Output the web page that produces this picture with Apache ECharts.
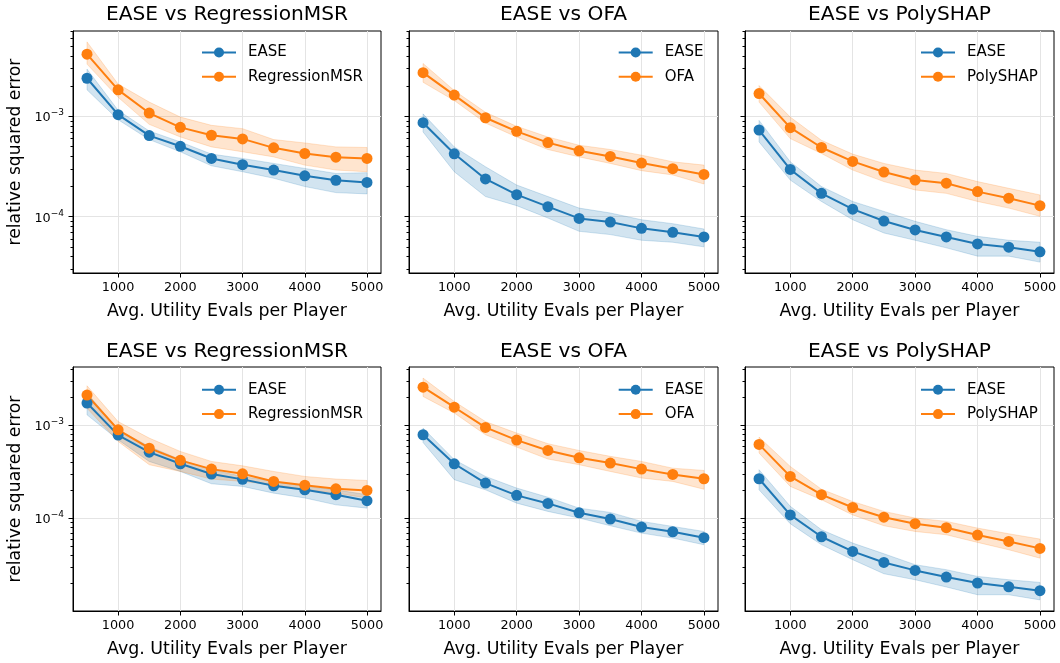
<!DOCTYPE html>
<html><head><meta charset="utf-8">
<script src="https://cdn.jsdelivr.net/npm/echarts@6/dist/echarts.min.js"></script>
<style>html,body{margin:0;padding:0;background:#fff}#c{width:1060px;height:663px}</style>
</head><body><div id="c"></div>
<script>
// ---------- data ----------
const evals = [500, 1000, 1500, 2000, 2500, 3000, 3500, 4000, 4500, 5000];
const xTickValues = [1000, 2000, 3000, 4000, 5000];
const yTickValues = [1e-5, 1e-4, 1e-3, 1e-2];
const panelTitles = ['EASE vs RegressionMSR', 'EASE vs OFA', 'EASE vs PolySHAP'];
const otherNames = ['RegressionMSR', 'OFA', 'PolySHAP'];

// Row 1
const r1RegEase   = [2.40e-3, 1.04e-3, 6.44e-4, 5.04e-4, 3.81e-4, 3.30e-4, 2.92e-4, 2.56e-4, 2.31e-4, 2.20e-4];
const r1RegEaseLo = [1.84e-3, 9.27e-4, 5.88e-4, 4.44e-4, 3.22e-4, 2.81e-4, 2.42e-4, 2.00e-4, 1.74e-4, 1.69e-4];
const r1RegEaseHi = [2.96e-3, 1.15e-3, 7.16e-4, 5.57e-4, 4.21e-4, 3.81e-4, 3.40e-4, 3.03e-4, 2.70e-4, 2.75e-4];
const r1Reg       = [4.17e-3, 1.84e-3, 1.08e-3, 7.78e-4, 6.49e-4, 5.97e-4, 4.86e-4, 4.27e-4, 3.92e-4, 3.81e-4];
const r1RegLo     = [3.32e-3, 1.55e-3, 8.33e-4, 6.24e-4, 4.97e-4, 4.44e-4, 3.95e-4, 3.27e-4, 2.92e-4, 2.81e-4];
const r1RegHi     = [5.53e-3, 2.10e-3, 1.39e-3, 9.85e-4, 8.15e-4, 7.55e-4, 5.88e-4, 5.44e-4, 4.97e-4, 4.90e-4];

const r1OfaEase   = [8.66e-4, 4.24e-4, 2.38e-4, 1.66e-4, 1.26e-4, 9.62e-5, 8.85e-5, 7.66e-5, 6.99e-5, 6.29e-5];
const r1OfaEaseLo = [7.00e-4, 2.81e-4, 1.59e-4, 1.29e-4, 9.71e-5, 7.16e-5, 6.64e-5, 5.83e-5, 5.57e-5, 5.01e-5];
const r1OfaEaseHi = [1.06e-3, 4.97e-4, 3.15e-4, 2.07e-4, 1.59e-4, 1.22e-4, 1.09e-4, 9.34e-5, 8.53e-5, 7.55e-5];
const r1Ofa       = [2.73e-3, 1.63e-3, 9.70e-4, 7.10e-4, 5.48e-4, 4.54e-4, 3.99e-4, 3.43e-4, 3.01e-4, 2.64e-4];
const r1OfaLo     = [2.19e-3, 1.44e-3, 8.59e-4, 6.24e-4, 4.68e-4, 3.95e-4, 3.40e-4, 2.88e-4, 2.61e-4, 2.12e-4];
const r1OfaHi     = [3.37e-3, 1.81e-3, 1.10e-3, 7.96e-4, 6.24e-4, 5.16e-4, 4.68e-4, 4.11e-4, 3.53e-4, 3.27e-4];

const r1PolyEase   = [7.32e-4, 2.96e-4, 1.71e-4, 1.19e-4, 9.06e-5, 7.38e-5, 6.29e-5, 5.36e-5, 4.97e-5, 4.47e-5];
const r1PolyEaseLo = [5.57e-4, 2.32e-4, 1.42e-4, 9.34e-5, 6.89e-5, 5.83e-5, 4.90e-5, 4.05e-5, 4.05e-5, 3.53e-5];
const r1PolyEaseHi = [9.13e-4, 3.53e-4, 2.00e-4, 1.42e-4, 1.13e-4, 9.00e-5, 7.43e-5, 6.38e-5, 5.83e-5, 5.57e-5];
const r1Poly       = [1.69e-3, 7.73e-4, 4.90e-4, 3.56e-4, 2.79e-4, 2.32e-4, 2.16e-4, 1.78e-4, 1.53e-4, 1.29e-4];
const r1PolyLo     = [1.39e-3, 6.01e-4, 4.27e-4, 2.92e-4, 2.24e-4, 1.85e-4, 1.71e-4, 1.42e-4, 1.22e-4, 1.01e-4];
const r1PolyHi     = [2.03e-3, 9.85e-4, 5.78e-4, 4.21e-4, 3.40e-4, 2.92e-4, 2.70e-4, 2.24e-4, 1.92e-4, 1.65e-4];

// Row 2
const r2RegEase   = [1.74e-3, 7.87e-4, 5.16e-4, 3.87e-4, 3.00e-4, 2.63e-4, 2.24e-4, 2.03e-4, 1.80e-4, 1.55e-4];
const r2RegEaseLo = [1.30e-3, 7.01e-4, 4.10e-4, 3.20e-4, 2.36e-4, 2.21e-4, 1.87e-4, 1.66e-4, 1.40e-4, 1.29e-4];
const r2RegEaseHi = [2.23e-3, 8.98e-4, 5.94e-4, 4.28e-4, 3.34e-4, 2.83e-4, 2.50e-4, 2.21e-4, 2.03e-4, 1.80e-4];
const r2Reg       = [2.12e-3, 8.98e-4, 5.70e-4, 4.21e-4, 3.39e-4, 3.02e-4, 2.50e-4, 2.28e-4, 2.08e-4, 2.00e-4];
const r2RegLo     = [1.53e-3, 6.73e-4, 3.78e-4, 3.20e-4, 2.65e-4, 2.50e-4, 2.30e-4, 2.06e-4, 1.87e-4, 1.66e-4];
const r2RegHi     = [2.67e-3, 1.10e-3, 7.31e-4, 5.25e-4, 4.10e-4, 3.68e-4, 3.20e-4, 2.83e-4, 2.65e-4, 2.56e-4];

const r2OfaEase   = [7.94e-4, 3.87e-4, 2.40e-4, 1.77e-4, 1.45e-4, 1.15e-4, 9.84e-5, 8.07e-5, 7.19e-5, 6.20e-5];
const r2OfaEaseLo = [6.56e-4, 2.61e-4, 2.03e-4, 1.46e-4, 1.19e-4, 1.01e-4, 8.34e-5, 6.95e-5, 6.15e-5, 5.21e-5];
const r2OfaEaseHi = [9.36e-4, 4.28e-4, 2.83e-4, 2.12e-4, 1.69e-4, 1.29e-4, 1.16e-4, 9.29e-5, 8.20e-5, 7.24e-5];
const r2Ofa       = [2.58e-3, 1.57e-3, 9.52e-4, 6.95e-4, 5.38e-4, 4.49e-4, 3.94e-4, 3.39e-4, 2.97e-4, 2.67e-4];
const r2OfaLo     = [2.05e-3, 1.36e-3, 7.94e-4, 5.85e-4, 4.35e-4, 3.78e-4, 3.20e-4, 2.72e-4, 2.50e-4, 2.06e-4];
const r2OfaHi     = [3.23e-3, 1.81e-3, 1.10e-3, 8.28e-4, 6.36e-4, 5.38e-4, 4.65e-4, 4.10e-4, 3.47e-4, 3.28e-4];

const r2PolyEase   = [2.67e-4, 1.09e-4, 6.35e-5, 4.42e-5, 3.36e-5, 2.76e-5, 2.34e-5, 2.02e-5, 1.84e-5, 1.67e-5];
const r2PolyEaseLo = [2.03e-4, 8.77e-5, 5.21e-5, 3.60e-5, 2.54e-5, 2.19e-5, 1.83e-5, 1.51e-5, 1.51e-5, 1.33e-5];
const r2PolyEaseHi = [3.34e-4, 1.35e-4, 7.55e-5, 5.43e-5, 4.17e-5, 3.18e-5, 2.81e-5, 2.38e-5, 2.19e-5, 2.05e-5];
const r2Poly       = [6.25e-4, 2.83e-4, 1.80e-4, 1.31e-4, 1.03e-4, 8.77e-5, 7.94e-5, 6.62e-5, 5.66e-5, 4.76e-5];
const r2PolyLo     = [5.05e-4, 2.21e-4, 1.59e-4, 1.09e-4, 8.34e-5, 7.24e-5, 6.67e-5, 5.52e-5, 4.60e-5, 3.74e-5];
const r2PolyHi     = [7.50e-4, 3.62e-4, 2.06e-4, 1.52e-4, 1.19e-4, 1.01e-4, 9.29e-5, 7.87e-5, 6.84e-5, 6.00e-5];

// ---------- layout / style ----------
const FONT = 'DejaVu Sans';
const BLUE = '#1f77b4', ORANGE = '#ff7f0e';
const BLUE_A = 'rgba(31,119,180,0.2)', ORANGE_A = 'rgba(255,127,14,0.2)';
const colLeft = [73, 409, 745], colWidth = [308, 309, 309];
const rowTop = [31, 367], rowHeight = [242, 244];
const yRange = [[2.75e-5, 7.1e-3], [1.01e-5, 4.25e-3]];
const xRange = [275, 5225];
const legendLeft = [201, 617.7, 920];
const legendTop = [44.5, 381.8];
const titleTop = [4.5, 342];

const panels = [
  {row: 0, col: 0, e: r1RegEase, eLo: r1RegEaseLo, eHi: r1RegEaseHi, o: r1Reg, oLo: r1RegLo, oHi: r1RegHi},
  {row: 0, col: 1, e: r1OfaEase, eLo: r1OfaEaseLo, eHi: r1OfaEaseHi, o: r1Ofa, oLo: r1OfaLo, oHi: r1OfaHi},
  {row: 0, col: 2, e: r1PolyEase, eLo: r1PolyEaseLo, eHi: r1PolyEaseHi, o: r1Poly, oLo: r1PolyLo, oHi: r1PolyHi},
  {row: 1, col: 0, e: r2RegEase, eLo: r2RegEaseLo, eHi: r2RegEaseHi, o: r2Reg, oLo: r2RegLo, oHi: r2RegHi},
  {row: 1, col: 1, e: r2OfaEase, eLo: r2OfaEaseLo, eHi: r2OfaEaseHi, o: r2Ofa, oLo: r2OfaLo, oHi: r2OfaHi},
  {row: 1, col: 2, e: r2PolyEase, eLo: r2PolyEaseLo, eHi: r2PolyEaseHi, o: r2Poly, oLo: r2PolyLo, oHi: r2PolyHi}
];

// minor tick positions for log axis (2..9 x 10^k)
const minorTicks = [];
for (let k = -6; k <= -2; k++) for (let m = 2; m <= 9; m++) minorTicks.push(m * Math.pow(10, k));

const pairs = (ys) => evals.map((x, i) => [x, ys[i]]);
const bandRows = (lo, hi) => evals.map((x, i) => [x, lo[i], hi[i]]);

// one polygon for the whole band, built from all data items via the axis scales
function bandRenderer(color) {
  return function (params, api) {
    if (params.dataIndexInside !== 0) return null;
    const n = params.dataInsideLength;
    const upper = [], lower = [];
    for (let k = 0; k < n; k++) {
      const x = api.value(0, k);
      lower.push(api.coord([x, api.value(1, k)]));
      upper.push(api.coord([x, api.value(2, k)]));
    }
    const pts = lower.concat(upper.reverse());
    return {type: 'polygon', shape: {points: pts},
      style: {fill: color, stroke: color, lineWidth: 1}};
  };
}

const grid = [], xAxis = [], yAxis = [], series = [], legend = [], title = [];

panels.forEach((p, i) => {
  const r = p.row, c = p.col;
  grid.push({left: colLeft[c], top: rowTop[r], width: colWidth[c], height: rowHeight[r],
    show: true, borderColor: '#000', borderWidth: 1, backgroundColor: 'transparent',
    containLabel: false, outerBoundsMode: 'none'});
  xAxis.push({type: 'value', gridIndex: i, min: xRange[0], max: xRange[1],
    name: 'Avg. Utility Evals per Player', nameLocation: 'middle', nameGap: 30,
    nameTextStyle: {fontFamily: FONT, fontSize: 17.4, color: '#000'},
    axisLine: {show: true, lineStyle: {color: '#000', width: 1}},
    axisTick: {show: true, length: 4.5, lineStyle: {color: '#000', width: 1}, customValues: xTickValues},
    axisLabel: {show: true, margin: 8, fontFamily: FONT, fontSize: 12.8, color: '#000',
      customValues: xTickValues, formatter: v => String(Math.round(v))},
    splitLine: {show: true, lineStyle: {color: '#e4e4e4', width: 1}}
  });
  yAxis.push({type: 'log', logBase: 10, gridIndex: i, min: yRange[r][0], max: yRange[r][1],
    name: c === 0 ? 'relative squared error' : '', nameLocation: 'middle', nameGap: 49,
    nameTextStyle: {fontFamily: FONT, fontSize: 17.2, color: '#000'},
    axisLine: {show: true, lineStyle: {color: '#000', width: 1}},
    axisTick: {show: true, length: 4.5, lineStyle: {color: '#000', width: 1}, customValues: yTickValues},
    axisLabel: {show: c === 0, margin: 9, customValues: yTickValues,
      formatter: v => '{b|10}{s|\u2212' + Math.abs(Math.round(Math.log10(v))) + '}',
      rich: {
        b: {fontFamily: FONT, fontSize: 12.8, color: '#000', lineHeight: 16, verticalAlign: 'bottom'},
        s: {fontFamily: FONT, fontSize: 9, color: '#000', lineHeight: 11, verticalAlign: 'top'}
      }},
    splitLine: {show: true, lineStyle: {color: '#e4e4e4', width: 1}}
  });
  yAxis.push({type: 'log', logBase: 10, gridIndex: i, position: 'left', offset: 0,
    min: yRange[r][0], max: yRange[r][1],
    axisLine: {show: false}, axisLabel: {show: false}, splitLine: {show: false},
    axisTick: {show: true, length: 2.5, lineStyle: {color: '#000', width: 1}, customValues: minorTicks}
  });
  const yi = 2 * i;
  const groups = [
    {name: 'EASE', m: p.e, lo: p.eLo, hi: p.eHi, col: BLUE, colA: BLUE_A},
    {name: otherNames[c], m: p.o, lo: p.oLo, hi: p.oHi, col: ORANGE, colA: ORANGE_A}
  ];
  groups.forEach((g, gi) => {
    series.push({type: 'custom', name: '_band_' + i + '_' + gi, xAxisIndex: i, yAxisIndex: yi,
      data: bandRows(g.lo, g.hi), encode: {x: 0, y: [1, 2]}, silent: true, clip: true,
      renderItem: bandRenderer(g.colA)});
    series.push({type: 'line', name: g.name, xAxisIndex: i, yAxisIndex: yi,
      data: pairs(g.m), symbol: 'circle', symbolSize: 11, silent: true,
      lineStyle: {color: g.col, width: 2}, itemStyle: {color: g.col, borderWidth: 0}});
  });
  legend.push({left: legendLeft[c], top: legendTop[r], orient: 'vertical', padding: 0,
    itemWidth: 34, itemHeight: 12.5, itemGap: 8.3, selectedMode: false,
    data: ['EASE', otherNames[c]],
    textStyle: {fontFamily: FONT, fontSize: 15, color: '#000', lineHeight: 16, padding: [0, 0, 0, 7]}});
  title.push({text: panelTitles[c], left: colLeft[c] + colWidth[c] / 2, top: titleTop[r], textAlign: 'center',
    padding: 0, textStyle: {fontFamily: FONT, fontSize: 20.2, fontWeight: 'normal', color: '#000'}});
});

const chart = echarts.init(document.getElementById('c'), null, {renderer: 'canvas'});
chart.setOption({
  animation: false,
  backgroundColor: '#fff',
  textStyle: {fontFamily: FONT},
  title, legend, grid, xAxis, yAxis, series,
  tooltip: {show: false}
});
</script>
</body></html>
